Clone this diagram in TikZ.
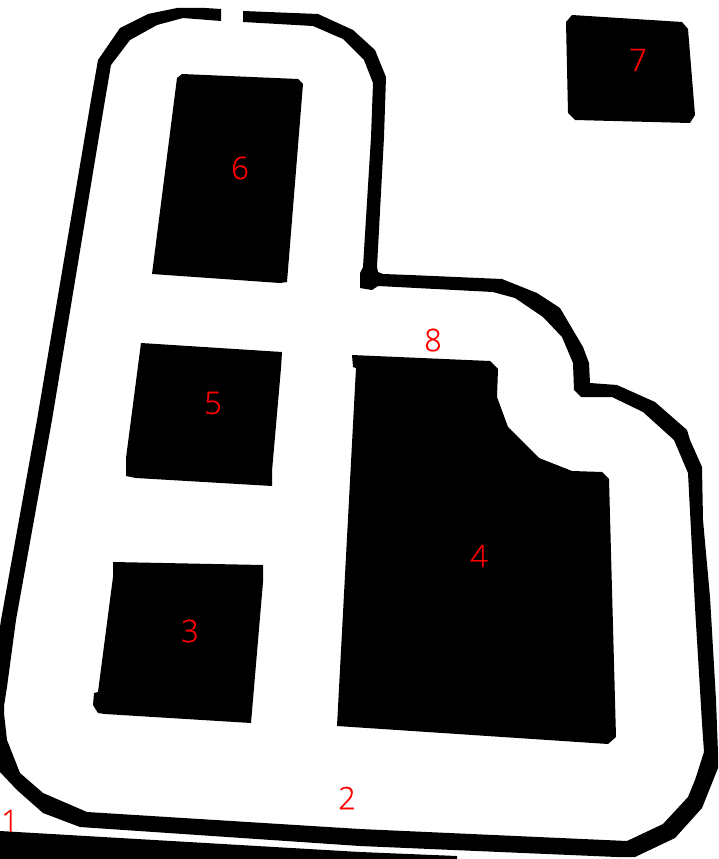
\documentclass[tikz,border=0pt]{standalone}
\usepackage{fontspec}
\setmainfont{Open Sans Light}[FakeBold=0.6]
\newfontfamily\labelfont{Open Sans Light}[FakeBold=0.6]
\tikzset{
  solidshape/.style={fill=black,draw=none},
  numlabel/.style={text=red,font=\labelfont\fontsize{31}{31}\selectfont,inner sep=0pt}
}
\begin{document}
\begin{tikzpicture}[x=1pt,y=-1pt]
\useasboundingbox (0,0) rectangle (719,859);
\clip (0,0) rectangle (719,859);
\fill[white] (0,0) rectangle (719,859);
% outer band
\fill[black]
 (221,9) -- (205,8) -- (177,8) -- (148,14) -- (120,28) -- (98,60) -- (91,100) -- (37,420) -- (1,620) -- (-8,680) -- (-8,765) -- (0,772) -- (17,790) -- (43,813) -- (80,827) -- (360,846) -- (617,857) -- (635,857) -- (675,838) -- (702,808) -- (718,768) -- (718,753) -- (716,700) -- (710,597) -- (703,520) -- (702,467) -- (690,440) -- (687,430) -- (655,402) -- (617,385) -- (590,383) -- (589,363) -- (583,347) -- (560,308) -- (537,293) -- (502,279) -- (410,275) -- (383,274) -- (378,272) -- (377,267) -- (384,137) -- (386,77) -- (379,60) -- (375,50) -- (353,30) -- (318,14) -- (243,11)
 -- (243,22) -- (313,26) -- (343,39) -- (364,60) -- (373,83) -- (371,137) -- (363,267) -- (360,273) -- (360,288) -- (372,290) -- (378,286) -- (493,292) -- (515,298) -- (543,317) -- (562,337) -- (573,363) -- (574,390) -- (581,397) -- (612,397) -- (643,412) -- (674,440) -- (688,473) -- (695,607) -- (702,723) -- (704,752) -- (695,780) -- (688,797) -- (663,824) -- (627,841) -- (360,829) -- (87,812) -- (43,793) -- (20,773) -- (7,740) -- (4,713) -- (4,706) -- (7,687) -- (16,620) -- (52,420) -- (105,100) -- (111,65) -- (130,40) -- (157,25) -- (183,18) -- (221,21) -- cycle;
% bottom-left sliver
\fill[black] (0,831) -- (360,852) -- (457,856) -- (457,859) -- (0,859) -- cycle;
% block 6
\path[solidshape] (177,78) -- (182,74) -- (298,79) -- (303,84) -- (287,282) -- (280,283) -- (152,274) -- cycle;
% block 5
\path[solidshape] (141,343) -- (282,352) -- (281,368) -- (272,471) -- (272,486) -- (136,478) -- (126,476) -- (126,458) -- cycle;
% block 3
\path[solidshape] (113,562) -- (263,565) -- (263,582) -- (251,723) -- (105,714) -- (98,713) -- (93,705) -- (94,693) -- (98,692) -- (113,577) -- cycle;
% block 4
\path[solidshape] (352,355) -- (490,361) -- (498,369) -- (497,397) -- (508,427) -- (539,458) -- (572,471) -- (602,472) -- (609,479) -- (616,737) -- (608,744) -- (337,726) -- (356,368) -- (353,367) -- cycle;
% block 7
\path[solidshape] (566,22) -- (572,15) -- (682,22) -- (688,29) -- (695,115) -- (690,123) -- (575,120) -- (568,113) -- cycle;
% labels
\node[numlabel] (n1) at (10,821) {1};
\node[numlabel] (n2) at (347,798) {2};
\node[numlabel] (n3) at (190,631) {3};
\node[numlabel] (n4) at (479,556) {4};
\node[numlabel] (n5) at (213,403) {5};
\node[numlabel] (n6) at (240,168) {6};
\node[numlabel] (n7) at (638,60) {7};
\node[numlabel] (n8) at (433,340) {8};
\end{tikzpicture}
\end{document}
